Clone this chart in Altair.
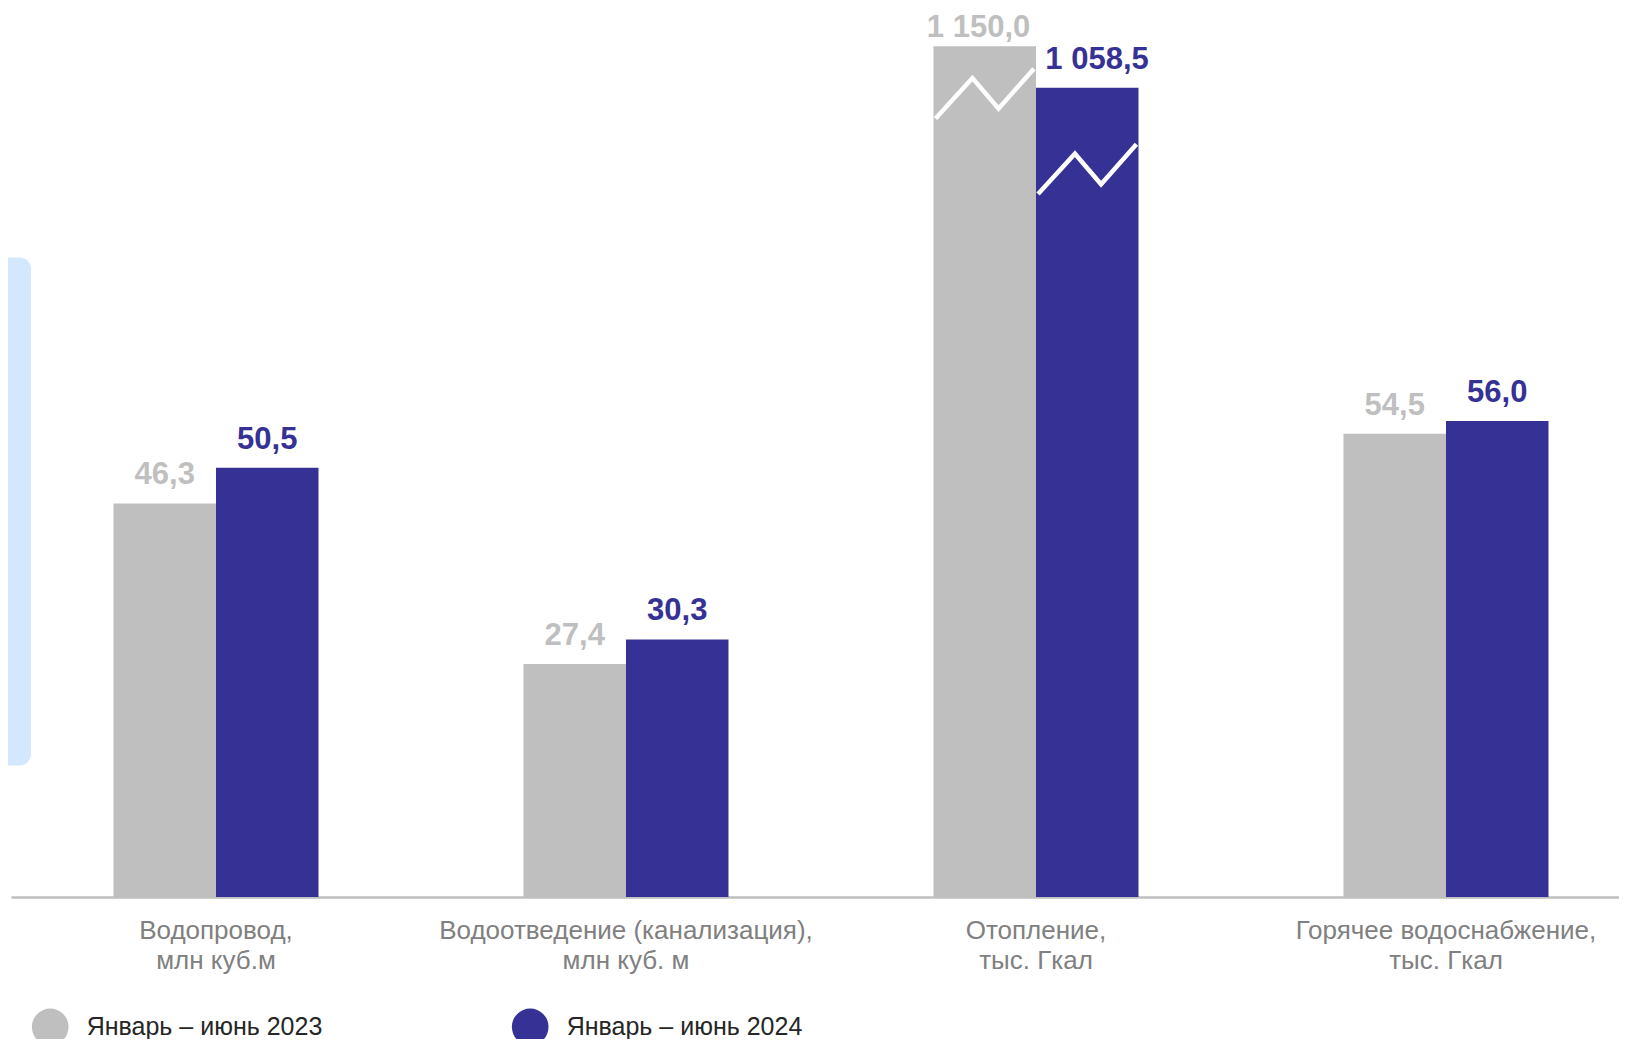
import altair as alt
import pandas as pd

# ---- data -------------------------------------------------------------
categories = [
    "Водопровод,\nмлн куб.м",
    "Водоотведение (канализация),\nмлн куб. м",
    "Отопление,\nтыс. Гкал",
    "Горячее водоснабжение,\nтыс. Гкал",
]
series = ["Январь – июнь 2023", "Январь – июнь 2024"]
colors = ["#bfbfbf", "#363194"]
values_2023 = [46.3, 27.4, 1150.0, 54.5]
values_2024 = [50.5, 30.3, 1058.5, 56.0]
# heights as drawn on the (broken) visible scale
shown_2023 = [46.3, 27.4, 100.1, 54.5]
shown_2024 = [50.5, 30.3, 95.2, 56.0]
break_index = 2                 # category with the axis break
break_level = [91.6, 82.7]      # break marker level per series (visible scale)
zig_dx = [0.02, 0.38, 0.635, 0.98]  # zigzag shape, fraction of bar width
zig_dy = [0.0, 4.75, 1.15, 5.85]    # zigzag shape, visible-scale units

BAR_W = 0.25
LABEL_CEIL = 98.9
BREAK_LABEL_SHIFT = [-0.015, 0.024]  # label nudge on the broken group


def fmt(v):
    return f"{v:,.1f}".replace(",", " ").replace(".", ",")


rows = []
for i, cat in enumerate(categories):
    for j, (s, vals, shown) in enumerate(
        [(series[0], values_2023, shown_2023), (series[1], values_2024, shown_2024)]
    ):
        x0 = i + (j - 1) * BAR_W
        xc = x0 + BAR_W / 2
        if i == break_index:
            xc += BREAK_LABEL_SHIFT[j]
        rows.append(
            dict(
                g=i,
                category=cat,
                series=s,
                value=vals[i],
                shown=shown[i],
                label=fmt(vals[i]),
                x0=x0,
                x1=x0 + BAR_W,
                xc=xc,
            )
        )
bars_df = pd.DataFrame(rows)
cats_df = pd.DataFrame({"g": list(range(len(categories))), "category": categories})

zig_rows = []
for j, s in enumerate(series):
    x0 = break_index + (j - 1) * BAR_W
    for k, (dx, dy) in enumerate(zip(zig_dx, zig_dy)):
        zig_rows.append(dict(series=s, k=k, zx=x0 + dx * BAR_W, zy=break_level[j] + dy))
zig_df = pd.DataFrame(zig_rows)

# ---- scales -----------------------------------------------------------
W, H = 1608, 884
xscale = alt.Scale(domain=[-0.5, 3.422], nice=False, zero=False)
yscale = alt.Scale(domain=[0, 104], nice=False, zero=True)
cscale = alt.Scale(domain=series, range=colors)

FONT = "Liberation Sans"

bars = (
    alt.Chart(bars_df)
    .mark_rect()
    .encode(
        x=alt.X(
            "x0:Q",
            scale=xscale,
            axis=alt.Axis(
                title=None,
                labels=False,
                ticks=False,
                grid=False,
                domain=True,
                domainColor="#bfbfbf",
                domainWidth=2.5,
            ),
        ),
        x2="x1:Q",
        y=alt.Y("shown:Q", scale=yscale, axis=None),
        y2=alt.datum(0),
        color=alt.Color(
            "series:N",
            scale=cscale,
            legend=alt.Legend(
                orient="none",
                legendX=20.7,
                legendY=995.3,
                direction="horizontal",
                title=None,
                symbolType="circle",
                symbolSize=1347,
                symbolStrokeWidth=0,
                symbolOpacity=1,
                labelFontSize=25,
                labelFont=FONT,
                labelColor="#262626",
                labelOffset=18,
                columnPadding=189,
                labelLimit=500,
                padding=0,
            ),
        ),
    )
)

labels = (
    alt.Chart(bars_df)
    .transform_calculate(label_y=f"min(datum.shown, {LABEL_CEIL})")
    .mark_text(
        font=FONT,
        fontSize=31,
        fontWeight="bold",
        align="center",
        baseline="alphabetic",
        dy=-19,
    )
    .encode(
        x=alt.X("xc:Q", scale=xscale),
        y=alt.Y("label_y:Q", scale=yscale, axis=None),
        text="label:N",
        color=alt.Color("series:N", scale=cscale, legend=None),
    )
)

zig = (
    alt.Chart(zig_df)
    .mark_line(color="white", strokeWidth=4.5, strokeCap="butt", strokeJoin="miter")
    .encode(
        x=alt.X("zx:Q", scale=xscale),
        y=alt.Y("zy:Q", scale=yscale, axis=None),
        detail="series:N",
        order="k:O",
    )
)

cats = (
    alt.Chart(cats_df)
    .mark_text(
        font=FONT,
        fontSize=26,
        color="#808080",
        align="center",
        baseline="alphabetic",
        lineBreak="\n",
        lineHeight=30,
        dy=42,
    )
    .encode(
        x=alt.X("g:Q", scale=xscale),
        y=alt.datum(0, scale=yscale, axis=None),
        text="category:N",
    )
)

deco = (
    alt.Chart(pd.DataFrame({"a": [0]}))
    .mark_rect(color="#d3e8fd", cornerRadiusTopRight=12, cornerRadiusBottomRight=12)
    .encode(
        x=alt.value(-3),
        x2=alt.value(20),
        y=alt.value(244.5),
        y2=alt.value(752.5),
    )
)

chart = (
    alt.layer(deco, bars, zig, labels, cats)
    .properties(
        width=W,
        height=H,
        autosize=alt.AutoSizeParams(type="none"),
        padding={"left": 3, "top": 5, "right": 0, "bottom": 142},
    )
    .configure(font=FONT)
    .configure_view(stroke=None, strokeWidth=0)
)

chart.save("out.html", embed_options={"renderer": "svg", "actions": False})
